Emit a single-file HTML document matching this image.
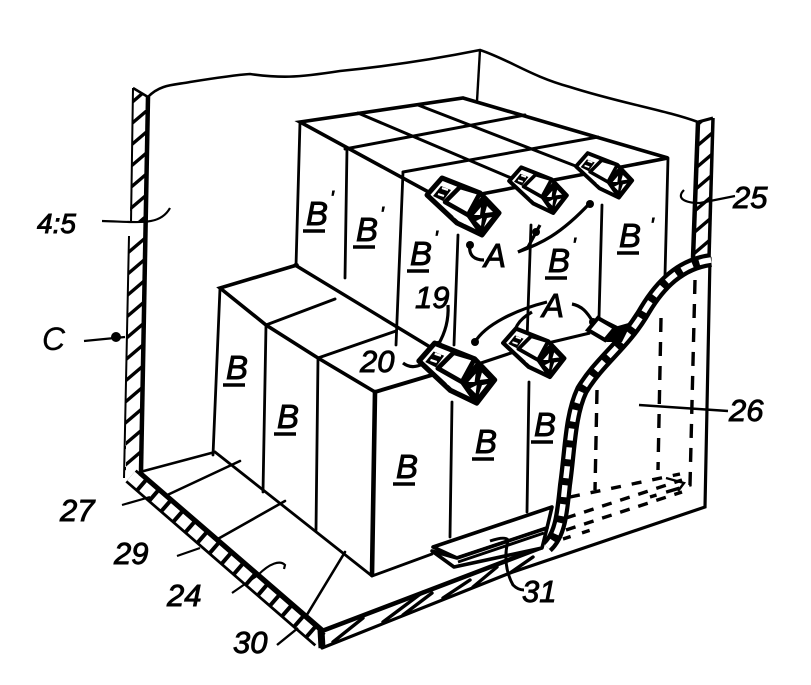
<!DOCTYPE html>
<html><head><meta charset="utf-8"><style>
html,body{margin:0;padding:0;background:#fff}
svg{display:block}
text{font-family:"Liberation Sans",sans-serif;font-style:italic;fill:#000;stroke:#000;stroke-width:.9}
.n{font-size:31px}
.b{font-size:33px}
</style></head><body>
<svg width="811" height="685" viewBox="0 0 811 685" xmlns="http://www.w3.org/2000/svg">
<defs>
<pattern id="h" width="21" height="21" patternUnits="userSpaceOnUse" patternTransform="translate(0,5)">
<path d="M-3 21L24 -2" stroke="#000" stroke-width="3.4" fill="none"/>
</pattern>
<g id="cam">
<path d="M-41-20L-26-37L12-22L31-2L14 20L-11 8Z" fill="#fff" stroke="#000" stroke-width="5" stroke-linejoin="round"/>
<path d="M0 0L15-17L31-2L14 20Z" fill="#000" stroke="#000" stroke-width="4" stroke-linejoin="round"/>
<path d="M6 0L13-8L12 0ZM19-9L25-3L17-2ZM8 6L14 3L13 11ZM19 3L24 2L16 12Z" fill="#fff"/>
<path d="M-23-13L-8-28L12-22L0 0Z" fill="#fff" stroke="#000" stroke-width="4.5" stroke-linejoin="round"/>
<path d="M-35-19L-27-29L-17-25L-25-14Z" fill="#000"/>
<path d="M-30-21L-24-19M-26-27L-20-25" stroke="#fff" stroke-width="2.2"/>
<path d="M-14 1L-3 8" stroke="#fff" stroke-width="2"/>
</g>
</defs>
<rect width="811" height="685" fill="#fff"/>

<!-- walls -->
<path d="M133 88L148 97L141 470L124 476Z" fill="url(#h)"/>
<path d="M126 222h25v12h-25z" fill="#fff"/>
<path d="M133 88L131 222M129 236L124 478" stroke="#000" stroke-width="2" fill="none"/>
<path d="M148 97L141 472" stroke="#000" stroke-width="4.5" fill="none"/>
<path d="M133 88L148 97" stroke="#000" stroke-width="2.5"/>
<path d="M698 122L713 118L709 258L693 258Z" fill="url(#h)"/>
<path d="M698 122L693 258" stroke="#000" stroke-width="4.5" fill="none"/>
<path d="M713 118L709 258" stroke="#000" stroke-width="3.5" fill="none"/>
<path d="M698 122L713 118" stroke="#000" stroke-width="3"/>

<!-- top wavy edge -->
<path d="M148 97C160 84 175 85 190 82C215 78 235 75 250 74C280 78 295 78 340 71C390 66 440 58 480 50C510 60 530 76 570 87C620 103 665 110 698 122" fill="none" stroke="#000" stroke-width="2.6"/>
<path d="M480 50L477 101" stroke="#000" stroke-width="2.4"/>

<g fill="none" stroke="#000" stroke-linecap="round">
<path d="M300 122L463 98L668 158L445 201Z" fill="#fff" stroke-width="3.6"/>
<path d="M345 149L525 115M403 172L598 137M358 113L530 186M418 105L604 177" stroke-width="3"/>
<path d="M300 122L296 266M347 148L345 278M403 172L396 345M458 235L454 345M531 225L527 340M602 205L599 318M668 158L665 275" stroke-width="2.8"/>
<path d="M297 265L220 288L266 325L318 358L375 392" stroke-width="3.6"/>
<path d="M295 265L435 350" stroke-width="3.4"/>
<path d="M266 325L335 299M318 358L396 331" stroke-width="3"/>
<path d="M375 392L442 372" stroke-width="4"/>
<path d="M220 288L213 455M266 325L263 492M318 358L316 530" stroke-width="2.8"/>
<path d="M375 392L372 575" stroke-width="4.6"/>
<path d="M452 402L450 537M529 382L527 512" stroke-width="2.8"/>

<!-- floor -->
<path d="M140 472L215 452M163 497L240 461M216 540L285 501M305 618L345 552" stroke-width="2.6"/>
<path d="M215 452L372 576L432 554" stroke-width="2.8"/>

<!-- front & right side -->
<path d="M322 648L510 573L705 507L710 258" stroke-width="3.2"/>
<path d="M322 631L540 548" stroke-width="4.6"/>
<path d="M333 642L363 618M383 622L423 592M403 615L432 593M443 598L470 580M473 587L497 567M510 573L533 557" stroke-width="3.4"/>
</g>

<!-- floor strip -->
<path d="M131 476L320 640" stroke="#000" stroke-width="17" fill="none"/>
<path d="M131 476L320 640" stroke="#fff" stroke-width="11.5" stroke-dasharray="12 4" fill="none"/>
<path d="M140 473L322 630" stroke="#000" stroke-width="5" fill="none"/>
<path d="M321 630L322 648" stroke="#000" stroke-width="7"/>

<!-- dashed hidden -->
<g fill="none" stroke="#000" stroke-width="3.4">
<path d="M597 390L595 490" stroke-dasharray="14 9"/>
<path d="M661 318L658 470" stroke-dasharray="14 10"/>
<path d="M695 280L690 485L650 497" stroke-dasharray="14 10"/>
<path d="M570 497L680 474" stroke-dasharray="10 11"/>
<path d="M566 518L682 480" stroke-dasharray="10 9"/>
<path d="M566 530L682 492" stroke-dasharray="10 9"/>
<path d="M563 539L600 527" stroke-dasharray="8 12"/>
<path d="M666 478L684 483L678 491" stroke-width="2.4"/>
</g>

<!-- plate 31 -->
<path d="M433 547L552 507L547 528L457 558Z" fill="#fff" stroke="#000" stroke-width="3.6" stroke-linejoin="round"/>
<path d="M432 551L454 567L542 548L547 528L457 558Z" fill="#fff" stroke="#000" stroke-width="3.6" stroke-linejoin="round"/>
<path d="M458 562L544 533" stroke="#000" stroke-width="3"/>
<path d="M490 541Q505 536 508 540Q502 565 513 585Q518 590 524 590" fill="none" stroke="#000" stroke-width="3"/>

<!-- film curve -->
<path d="M711 260C680 264 660 285 645 310C625 345 600 360 582 390C570 415 570 450 565 485C562 515 560 535 547 547" fill="none" stroke="#000" stroke-width="14" stroke-linejoin="round"/>
<path d="M711 260C680 264 660 285 645 310C625 345 600 360 582 390C570 415 570 450 565 485C562 515 560 535 547 547" fill="none" stroke="#fff" stroke-width="5.5" stroke-dasharray="12 7"/>

<!-- connectors -->
<g fill="none" stroke="#000" stroke-width="3.2">
<path d="M475 365L520 350M548 343L590 333M598 318L622 330"/>
<path d="M475 342C485 325 515 310 547 302M532 312C518 320 512 330 517 338"/>
<path d="M572 304C582 306 587 312 593 322"/>
<path d="M448 305C449 322 444 335 438 345"/>
<path d="M403 363C412 370 420 365 426 363Q432 361 440 366"/>
<path d="M518 252C540 244 560 235 590 203"/>
<path d="M518 252L528 247L540 225"/>
<path d="M470 244C468 256 475 260 484 260"/>
<path d="M102 221C140 222 160 226 170 208" stroke-width="2.2"/>
<path d="M84 341L125 337" stroke-width="2.2"/>
<path d="M684 190C676 198 684 203 700 203L735 196" stroke-width="2.2"/>
<path d="M639 405L728 411" stroke-width="2.4"/>
<path d="M122 505L150 497" stroke-width="2.2"/>
<path d="M177 556L200 548" stroke-width="2.2"/>
<path d="M232 593L258 575C270 563 280 560 285 565L284 569" stroke-width="2.2"/>
<path d="M277 645L298 628" stroke-width="2.4"/>
</g>
<circle cx="116" cy="337" r="5"/>
<circle cx="475" cy="342" r="4"/><circle cx="593" cy="322" r="4"/><circle cx="438" cy="345" r="4"/>
<circle cx="470" cy="245" r="4"/><circle cx="590" cy="204" r="4"/><circle cx="536" cy="232" r="4"/>

<!-- cameras -->
<use href="#cam" transform="translate(468,215)"/>
<use href="#cam" transform="translate(542,197) scale(.8)"/>
<use href="#cam" transform="translate(608,182) scale(.78)"/>
<use href="#cam" transform="translate(462,382) scale(1.05)"/>
<use href="#cam" transform="translate(538,360) scale(.85)"/>
<path d="M588 330L598 318L615 328L605 340Z" fill="#fff" stroke="#000" stroke-width="4"/>
<path d="M606 342L618 326L632 322L622 342Z" fill="#000"/>

<!-- labels -->
<text class="b" x="306" y="225">B</text><text x="330" y="205" style="font-size:20px">'</text>
<text class="b" x="356" y="241">B</text><text x="380" y="221" style="font-size:20px">'</text>
<text class="b" x="410" y="265">B</text><text x="434" y="245" style="font-size:20px">'</text>
<text class="b" x="548" y="272">B</text><text x="572" y="252" style="font-size:20px">'</text>
<text class="b" x="619" y="247">B</text><text x="650" y="232" style="font-size:20px">'</text>
<text class="b" x="226" y="379">B</text>
<text class="b" x="277" y="428">B</text>
<text class="b" x="396" y="478">B</text>
<text class="b" x="475" y="453">B</text>
<text class="b" x="534" y="436">B</text>
<g stroke="#000" stroke-width="3.4">
<path d="M303 231H325M353 247H375M407 271H429M545 278H567M617 253H639M223 385H245M274 434H296M393 484H415M472 459H494M531 442H553"/>
</g>
<text class="b" x="484" y="267">A</text>
<text class="b" x="542" y="317">A</text>
<text class="n" x="415" y="308">19</text>
<text class="n" x="360" y="372">20</text>
<text class="n" x="37" y="233" style="font-size:28px">4:5</text>
<text class="b" x="42" y="350" style="font-size:32px;stroke-width:.2">C</text>
<text class="n" x="733" y="208">25</text>
<text class="n" x="729" y="421">26</text>
<text class="n" x="60" y="521">27</text>
<text class="n" x="114" y="564">29</text>
<text class="n" x="167" y="606">24</text>
<text class="n" x="233" y="653">30</text>
<text class="n" x="522" y="602">31</text>
</svg>
</body></html>
